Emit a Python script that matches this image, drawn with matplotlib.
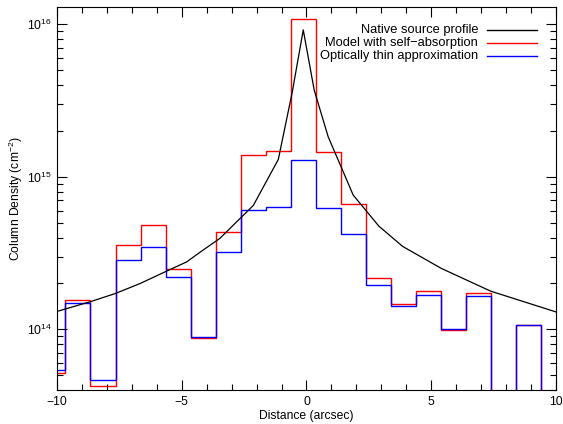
import matplotlib
matplotlib.use('Agg')
import matplotlib.pyplot as plt
import numpy as np
from matplotlib.lines import Line2D
from matplotlib.ticker import LogLocator, MultipleLocator, LogFormatterMathtext, NullFormatter

plt.rcParams['font.family'] = ['Liberation Sans', 'DejaVu Sans']
plt.rcParams['mathtext.default'] = 'regular'
plt.rcParams['font.size'] = 8.7

# Bin edges of the spectral-map pixels (arcsec)
bin_edges = [-10.66, -9.66, -8.66, -7.65, -6.65, -5.64, -4.64, -3.64, -2.63, -1.63, -0.63,
             0.37, 1.37, 2.38, 3.38, 4.39, 5.39, 6.39, 7.39, 8.39, 9.40, 10.40]

# Column densities per bin (cm^-2), 0 = nothing
model_selfabs = [5.15e13, 1.56e14, 4.27e13, 3.57e14, 4.83e14, 2.50e14, 8.81e13, 4.33e14,
                 1.40e15, 1.48e15, 1.08e16, 1.46e15, 6.64e14, 2.16e14, 1.47e14, 1.79e14,
                 9.9e13, 1.74e14, 0, 1.06e14, 0]
optically_thin = [5.4e13, 1.48e14, 4.64e13, 2.83e14, 3.45e14, 2.19e14, 8.95e13, 3.23e14,
                  6.05e14, 6.31e14, 1.28e15, 6.2e14, 4.2e14, 1.95e14, 1.42e14, 1.68e14,
                  1.0e14, 1.65e14, 0, 1.06e14, 0]

# Native (unbinned) source profile
native_x = [-10, -8.65, -7.65, -6.66, -5.65, -4.8, -4.27, -3.47, -2.13, -1.13, -0.57, -0.13,
            0.31, 0.87, 1.41, 1.87, 2.9, 3.85, 4.6, 5.4, 7.38, 10]
native_y = [1.31e14, 1.52e14, 1.72e14, 2.0e14, 2.39e14, 2.77e14, 3.2e14, 3.95e14, 6.5e14,
            1.3e15, 3.6e15, 9.2e15, 3.7e15, 1.83e15, 1.14e15, 7.6e14, 4.75e14, 3.5e14,
            2.98e14, 2.51e14, 1.78e14, 1.30e14]

fig = plt.figure(figsize=(5.63, 4.24), dpi=100)
ax = fig.add_axes([0.1012, 0.0802, 0.8864, 0.9033])

ax.set_yscale('log', nonpositive='clip')
ax.stairs(model_selfabs, bin_edges, color='red', lw=1.0, baseline=None)
ax.stairs(optically_thin, bin_edges, color='blue', lw=1.0, baseline=None)
ax.plot(native_x, native_y, color='black', lw=0.9)

ax.set_xlim(-10, 10)
ax.set_ylim(4.0e13, 1.3e16)
ax.xaxis.set_major_locator(MultipleLocator(5))
ax.xaxis.set_minor_locator(MultipleLocator(1))
ax.yaxis.set_major_locator(LogLocator(base=10))
ax.yaxis.set_minor_locator(LogLocator(base=10, subs=np.arange(2, 10)))
ax.yaxis.set_major_formatter(LogFormatterMathtext())
ax.yaxis.set_minor_formatter(NullFormatter())
ax.tick_params(which='both', direction='in', top=True, right=True, width=0.8)
ax.tick_params(which='major', length=7, pad=4)
ax.tick_params(which='minor', length=4)
for s in ax.spines.values():
    s.set_linewidth(0.8)

ax.set_xlabel('Distance (arcsec)', labelpad=2)
ax.set_ylabel('Column Density (cm$^{-2}$)', labelpad=1)

# Legend: right-aligned labels with the line sample to their right
labels = ['Native source profile', 'Model with self\u2212absorption', 'Optically thin approximation']
colors = ['black', 'red', 'blue']
rows = [0.9399, 0.9068, 0.872]
for lab, col, yy in zip(labels, colors, rows):
    ax.text(0.8437, yy, lab, transform=ax.transAxes, ha='right', va='center', fontsize=9.3)
    ax.add_line(Line2D([0.8617, 0.9619], [yy, yy], transform=ax.transAxes, color=col, lw=1.0))

fig.savefig('out.png', dpi=100)
